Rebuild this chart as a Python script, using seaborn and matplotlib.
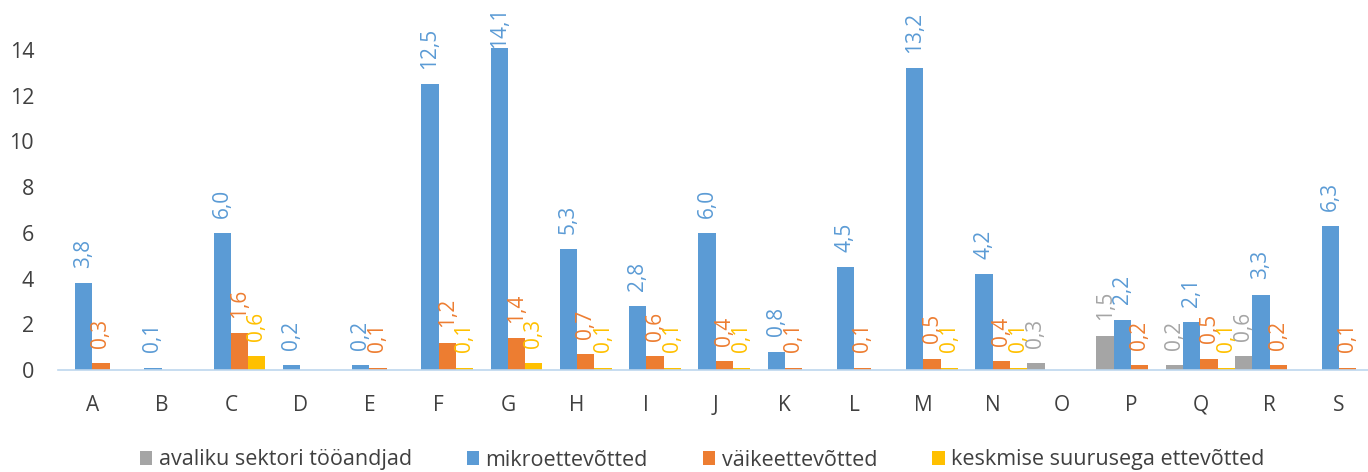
import numpy as np
import pandas as pd
import matplotlib
matplotlib.use("Agg")
import matplotlib.pyplot as plt
from matplotlib.patches import Patch
import seaborn as sns

nan = np.nan

categories = list("ABCDEFGHIJKLMNOPQRS")
series_names = [
    "avaliku sektori tööandjad",
    "mikroettevõtted",
    "väikeettevõtted",
    "keskmise suurusega ettevõtted",
]
avaliku = [nan, nan, nan, nan, nan, nan, nan, nan, nan, nan,
           nan, nan, nan, nan, 0.3, 1.5, 0.2, 0.6, nan]
mikro = [3.8, 0.1, 6.0, 0.2, 0.2, 12.5, 14.1, 5.3, 2.8, 6.0,
         0.8, 4.5, 13.2, 4.2, nan, 2.2, 2.1, 3.3, 6.3]
vaike = [0.3, nan, 1.6, nan, 0.1, 1.2, 1.4, 0.7, 0.6, 0.4,
         0.1, 0.1, 0.5, 0.4, nan, 0.2, 0.5, 0.2, 0.1]
keskmise = [nan, nan, 0.6, nan, nan, 0.1, 0.3, 0.1, 0.1, 0.1,
            nan, nan, 0.1, 0.1, nan, nan, 0.1, nan, nan]
y_ticks = [0, 2, 4, 6, 8, 10, 12, 14]

colors = ["#A5A5A5", "#5B9BD5", "#ED7D31", "#FFC000"]
axis_color = "#BDD7EE"
text_color = "#404040"

frames = []
for name, vals in zip(series_names, [avaliku, mikro, vaike, keskmise]):
    frames.append(pd.DataFrame({"kategooria": categories, "seeria": name, "väärtus": vals}))
df = pd.concat(frames, ignore_index=True).dropna()

sns.set_theme(style="white")
plt.rcParams["font.family"] = ["Open Sans", "DejaVu Sans"]

fig = plt.figure(figsize=(13.68, 4.72), dpi=100)
ax = fig.add_axes([57.7 / 1368, 102 / 472, 1315.8 / 1368, 365.7 / 472])

sns.barplot(
    data=df, x="kategooria", y="väärtus", hue="seeria",
    order=categories, hue_order=series_names, palette=colors,
    saturation=1, width=1.0, gap=0, dodge=True, linewidth=0,
    legend=False, errorbar=None, ax=ax,
)

def fmt_value(v):
    return f"{v:.1f}".replace(".", ",")

labels = []
for container, col in zip(ax.containers, colors):
    labels += ax.bar_label(container, fmt=fmt_value, rotation=90, padding=11,
                           color=col, fontsize=15)

ax.set_xlim(-0.5, len(categories) - 0.5)
ax.set_ylim(0, 16)
ax.set_yticks(y_ticks)
ax.set_yticklabels([str(t) for t in y_ticks])
ax.set_xlabel("")
ax.set_ylabel("")

for side in ("top", "right", "left"):
    ax.spines[side].set_visible(False)
ax.spines["bottom"].set_color(axis_color)
ax.spines["bottom"].set_linewidth(1.2)

ax.set_xticks(range(len(categories)))
ax.set_xticklabels(categories)
ax.set_xticks(np.arange(-0.5, len(categories), 1.0), minor=True)
ax.tick_params(axis="x", which="major", length=0, pad=18, labelsize=15, labelcolor=text_color)
ax.tick_params(axis="x", which="minor", length=12, direction="inout", color=axis_color, width=1.2)
ax.tick_params(axis="y", length=0, pad=17, labelsize=15.5, labelcolor=text_color)
ax.grid(False)

# keep value labels inside the figure: pull down any label that runs past the top
fig.canvas.draw()
renderer = fig.canvas.get_renderer()
top_limit = fig.bbox.height - 7
for t in labels:
    bb = t.get_window_extent(renderer)
    if bb.y1 > top_limit:
        shift_pt = (bb.y1 - top_limit) * 72 / fig.dpi
        t.xyann = (t.xyann[0], t.xyann[1] - shift_pt)

handles = [Patch(facecolor=c, edgecolor="none") for c in colors]
fig.legend(
    handles, series_names, loc="center", bbox_to_anchor=(702 / 1368, 1 - 460 / 472),
    ncol=4, frameon=False, fontsize=15.5, handlelength=0.58, handleheight=0.58,
    handletextpad=0.3, columnspacing=2.55, labelcolor=text_color,
)

fig.savefig("out.png", dpi=100)
